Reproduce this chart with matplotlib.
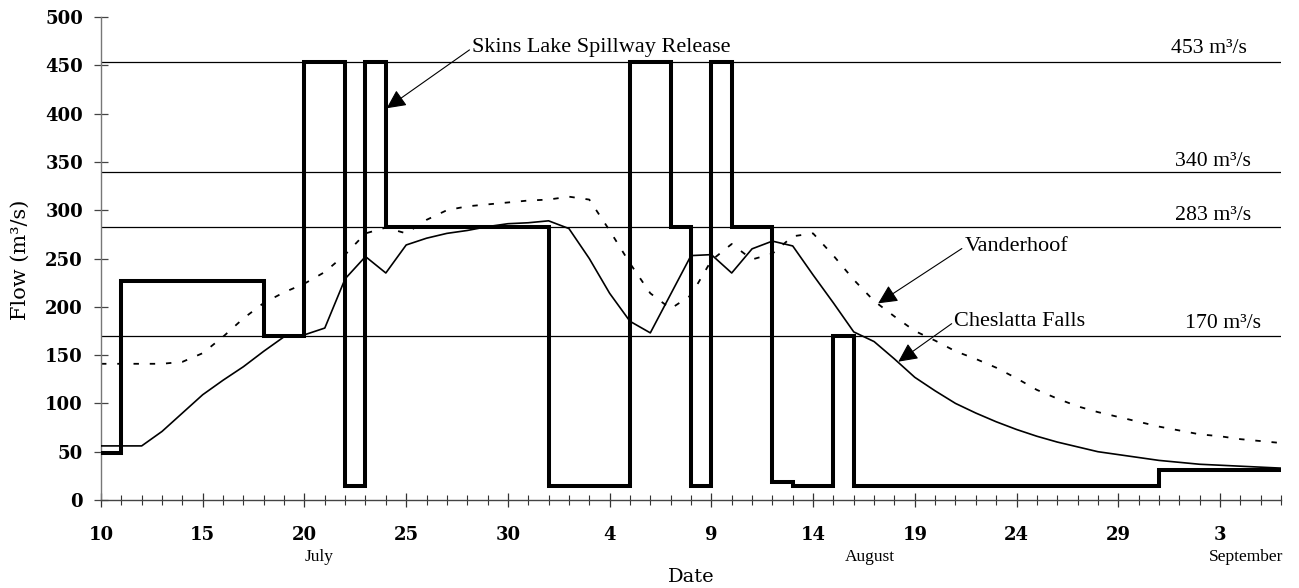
import matplotlib
matplotlib.use("Agg")
import matplotlib.pyplot as plt
import matplotlib.transforms as mtransforms

# ---------------- data ----------------
# day index: 0 = July 10, 58 = September 6
spill_days = [0, 1, 8, 10, 12, 13, 14, 22, 26, 28, 29, 30, 31, 33, 34, 36, 37, 52, 58]
spill_vals = [49, 227, 170, 453, 15, 453, 283, 15, 453, 283, 15, 453, 283, 19, 14, 170, 15, 31, 31]

ches_days = list(range(0, 59))
ches_vals = [56, 56, 56, 71, 90, 109, 124, 138, 154, 169, 171, 178, 229, 252, 235, 264,
             271, 276, 279, 283, 286, 287, 289, 281, 250, 214, 185, 173, 213, 253,
             254, 235, 260, 268, 263, 233, 204, 174, 164, 146, 127, 113, 100, 90,
             81, 73, 66, 60, 55, 50, 47, 44, 41, 39, 37, 36, 35, 34, 33]

vand_days = list(range(0, 59))
vand_vals = [141, 141, 141, 141, 143, 152, 169, 188, 204, 215, 224, 236, 254, 276, 282, 276,
             290, 300, 304, 306, 308, 310, 311, 314, 311, 279, 245, 214, 198, 212,
             248, 265, 249, 255, 273, 276, 253, 228, 206, 190, 175, 165, 154, 146,
             137, 126, 114, 105, 97, 91, 86, 81, 76, 72, 68, 66, 63, 61, 59]

ref_levels = [453, 340, 283, 170]
ref_labels = ["453 m³/s", "340 m³/s", "283 m³/s", "170 m³/s"]

tick_days = [0, 5, 10, 15, 20, 25, 30, 35, 40, 45, 50, 55]
tick_labels = ["10", "15", "20", "25", "30", "4", "9", "14", "19", "24", "29", "3"]
months = ["July", "August", "September"]
month_pos = [10.7, 37.8, 56.3]

# ---------------- figure ----------------
W, H = 1299, 588
fig = plt.figure(figsize=(W / 100, H / 100), dpi=100)
ax = fig.add_axes([101 / W, (H - 500) / H, (1281 - 101) / W, (500 - 17) / H])

serif_tick = ["DejaVu Serif"]
serif_txt = ["Liberation Serif", "DejaVu Serif"]

ax.set_xlim(0, 58)
ax.set_ylim(0, 500)

for lv in ref_levels:
    ax.axhline(lv, color="black", lw=0.9, zorder=1)

ax.plot(vand_days, vand_vals, color="black", lw=1.3, linestyle=(0, (3, 6)), zorder=2)
ax.plot(ches_days, ches_vals, color="black", lw=1.2, zorder=3)
ax.plot(spill_days, spill_vals, color="black", lw=2.9, drawstyle="steps-post",
        solid_joinstyle="miter", zorder=4)

# reference-line labels
label_x = [52.59, 52.79, 52.79, 53.28]
label_y = [467.7, 350.2, 294.0, 182.9]
for lx, ly, t in zip(label_x, label_y, ref_labels):
    ax.text(lx, ly, t, ha="left", va="center", fontsize=15.7, family=serif_txt)

# annotations
arrow = dict(arrowstyle="-|>,head_length=0.45,head_width=0.22", color="black", lw=0.8,
             mutation_scale=26, shrinkA=0, shrinkB=0, relpos=(0, 0.5))
ax.annotate("Skins Lake Spillway Release", xy=(14.04, 405.5), xytext=(18.25, 468),
            ha="left", va="center", fontsize=16, family=serif_txt, arrowprops=arrow)
ax.annotate("Vanderhoof", xy=(38.2, 203.6), xytext=(42.45, 262.2),
            ha="left", va="center", fontsize=16, family=serif_txt, arrowprops=arrow)
ax.annotate("Cheslatta Falls", xy=(39.19, 143.2), xytext=(41.95, 184.6),
            ha="left", va="center", fontsize=16, family=serif_txt, arrowprops=arrow)

# spines
for s in ["top", "right"]:
    ax.spines[s].set_visible(False)
ax.spines["left"].set_color("#777777")
ax.spines["bottom"].set_color("#444444")
ax.spines["left"].set_linewidth(1.0)
ax.spines["bottom"].set_linewidth(1.0)

# ticks
ax.set_yticks(range(0, 501, 50))
ax.set_xticks(tick_days)
ax.set_xticklabels(tick_labels)
ax.set_xticks(range(0, 59), minor=True)
ax.tick_params(axis="y", direction="inout", length=10, width=0.9, color="#444444",
               pad=8, labelsize=13)
ax.tick_params(axis="x", which="major", direction="inout", length=10, width=0.9,
               color="#333333", pad=14, labelsize=13)
ax.tick_params(axis="x", which="minor", direction="inout", length=6.5, width=0.8,
               color="#333333")
for lab in ax.get_xticklabels() + ax.get_yticklabels():
    lab.set_family(serif_tick)
    lab.set_fontweight("bold")

# month labels
trans = mtransforms.blended_transform_factory(ax.transData, fig.transFigure)
for m, p in zip(months, month_pos):
    fig.text(p, (H - 557) / H, m, transform=trans, ha="center", va="center",
             fontsize=12.5, family=serif_txt)

fig.text(691 / W, (H - 577) / H, "Date", ha="center", va="center",
         fontsize=14, family=serif_tick)
fig.text(20 / W, (H - 260) / H, "Flow (m³/s)", ha="center", va="center",
         rotation=90, fontsize=15, family=serif_tick)

fig.savefig("out.png", dpi=100)
